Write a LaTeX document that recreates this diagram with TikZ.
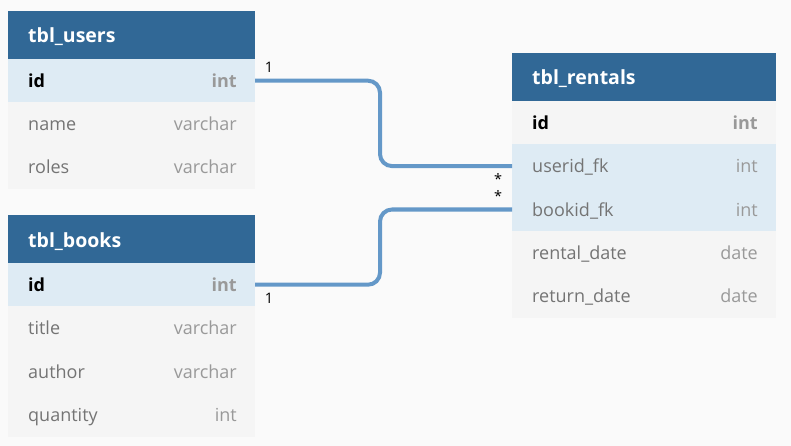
\documentclass[tikz,border=0pt]{standalone}
\usepackage{fontspec}
\setmainfont{Open Sans}
\definecolor{bgc}{HTML}{FAFAFA}
\definecolor{hdrc}{HTML}{316896}
\definecolor{hlc}{HTML}{DEEBF4}
\definecolor{rowc}{HTML}{F5F5F5}
\definecolor{namec}{HTML}{747474}
\definecolor{typec}{HTML}{999999}
\definecolor{connc}{HTML}{6498C8}
\tikzset{
  hdr/.style={rectangle, anchor=north west, fill=hdrc, minimum height=48pt, inner sep=0pt, outer sep=0pt},
  rowbox/.style={rectangle, anchor=north west, fill=rowc, minimum height=43.4pt, inner sep=0pt, outer sep=0pt},
  hlrow/.style={rowbox, fill=hlc},
  narrow/.style={minimum width=247pt},
  wide/.style={minimum width=264pt},
  hdrtxt/.style={anchor=base west, xshift=20pt, yshift=-8pt, inner sep=0pt, text=white, font=\fontsize{19.5}{21}\selectfont\bfseries},
  fname/.style={anchor=base west, xshift=20pt, yshift=-6.5pt, inner sep=0pt, text=namec, font=\fontsize{18}{20}\selectfont},
  ftype/.style={anchor=base east, xshift=-18pt, yshift=-6.5pt, inner sep=0pt, text=typec, font=\fontsize{18}{20}\selectfont},
  pkname/.style={fname, text=black, font=\fontsize{18}{20}\selectfont\bfseries},
  pktype/.style={ftype, font=\fontsize{18}{20}\selectfont\bfseries},
  conn/.style={draw=connc, line width=4pt, rounded corners=12pt},
  card/.style={inner sep=0pt, text=black, font=\fontsize{14.5}{15}\selectfont}
}
\begin{document}
\begin{tikzpicture}[x=1pt, y=-1pt]
\fill[bgc] (0,0) rectangle (791,446);
\useasboundingbox (0,0) rectangle (791,446);
% tbl_users
\node[hdr, narrow] (uh) at (8,11) {};
\node[hlrow, narrow] (uid) at (8,59) {};
\node[rowbox, narrow] (uname) at (8,102.4) {};
\node[rowbox, narrow] (uroles) at (8,145.8) {};
\node[hdrtxt] (uht) at (uh.west) {tbl\_users};
\node[pkname] (uidn) at (uid.west) {id};
\node[pktype] (uidt) at (uid.east) {int};
\node[fname] (unamen) at (uname.west) {name};
\node[ftype] (unamet) at (uname.east) {varchar};
\node[fname] (urolesn) at (uroles.west) {roles};
\node[ftype] (urolest) at (uroles.east) {varchar};
% tbl_books
\node[hdr, narrow] (bh) at (8,215) {};
\node[hlrow, narrow] (bid) at (8,263) {};
\node[rowbox, narrow] (btitle) at (8,306.4) {};
\node[rowbox, narrow] (bauthor) at (8,349.8) {};
\node[rowbox, narrow] (bqty) at (8,393.2) {};
\node[hdrtxt] (bht) at (bh.west) {tbl\_books};
\node[pkname] (bidn) at (bid.west) {id};
\node[pktype] (bidt) at (bid.east) {int};
\node[fname] (btitlen) at (btitle.west) {title};
\node[ftype] (btitlet) at (btitle.east) {varchar};
\node[fname] (bauthorn) at (bauthor.west) {author};
\node[ftype] (bauthort) at (bauthor.east) {varchar};
\node[fname] (bqtyn) at (bqty.west) {quantity};
\node[ftype] (bqtyt) at (bqty.east) {int};
% tbl_rentals
\node[hdr, wide] (rh) at (512,53) {};
\node[rowbox, wide] (rid) at (512,101) {};
\node[hlrow, wide] (ruser) at (512,144.4) {};
\node[hlrow, wide] (rbook) at (512,187.8) {};
\node[rowbox, wide] (rrental) at (512,231.2) {};
\node[rowbox, wide] (rreturn) at (512,274.6) {};
\node[hdrtxt] (rht) at (rh.west) {tbl\_rentals};
\node[pkname] (ridn) at (rid.west) {id};
\node[pktype] (ridt) at (rid.east) {int};
\node[fname] (rusern) at (ruser.west) {userid\_fk};
\node[ftype] (rusert) at (ruser.east) {int};
\node[fname] (rbookn) at (rbook.west) {bookid\_fk};
\node[ftype] (rbookt) at (rbook.east) {int};
\node[fname] (rrentaln) at (rrental.west) {rental\_date};
\node[ftype] (rrentalt) at (rrental.east) {date};
\node[fname] (rreturnn) at (rreturn.west) {return\_date};
\node[ftype] (rreturnt) at (rreturn.east) {date};
% connectors
\coordinate (mx) at (380,0);
\draw[conn] (uid.east) -| (mx |- ruser.west) -- (ruser.west);
\draw[conn] (bid.east) -| (mx |- rbook.west) -- (rbook.west);
% cardinalities
\node[card] (c1) at (269,67) {1};
\node[card] (c2) at (269,298) {1};
\node[card] (c3) at (498,179) {*};
\node[card] (c4) at (498,196) {*};
\end{tikzpicture}
\end{document}
